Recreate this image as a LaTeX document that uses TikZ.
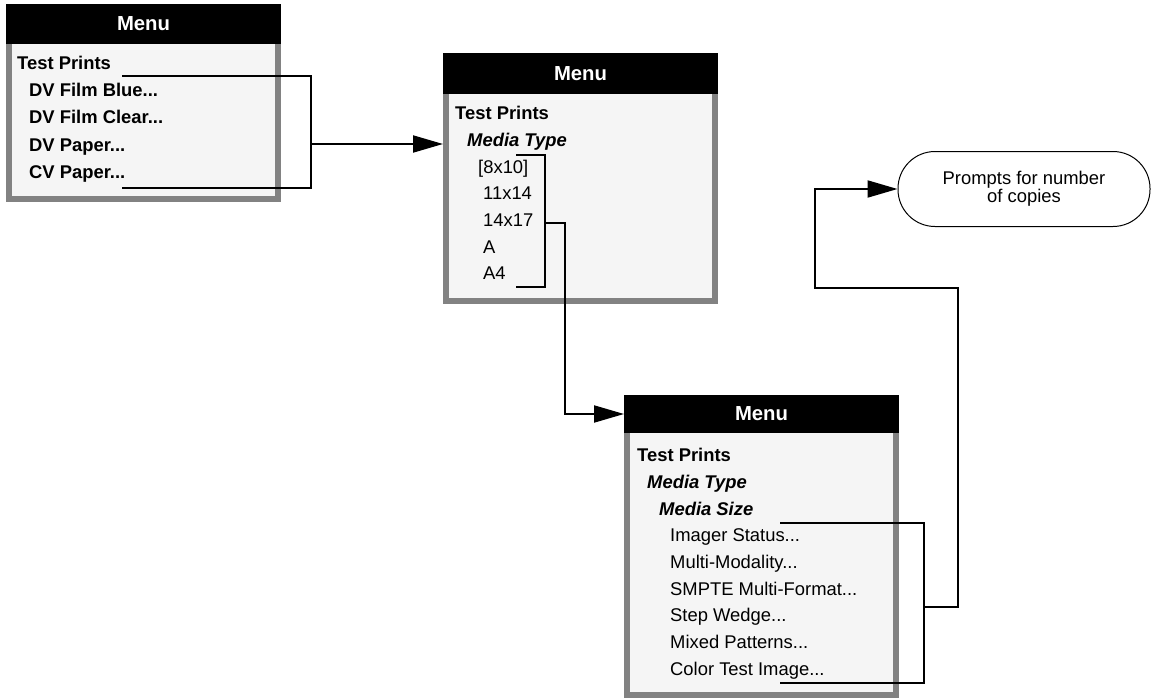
\documentclass[tikz,border=0pt]{standalone}
\usepackage{fontspec}
\setmainfont{Liberation Sans}
\usetikzlibrary{arrows.meta,positioning}
\definecolor{framegray}{HTML}{828282}
\definecolor{menufill}{HTML}{F5F5F5}

\begin{document}
\begin{tikzpicture}[
    x=1pt, y=-1pt,
    menubody/.style={rectangle, draw=framegray, line width=6pt, fill=menufill, inner sep=0pt, minimum width=269pt, anchor=north west},
    menuhead/.style={rectangle, fill=black, text=white, inner sep=0pt, outer sep=0pt, minimum width=275pt, anchor=north west, font=\fontsize{20.3}{24}\selectfont\bfseries},
    entry/.style={anchor=base west, inner sep=0pt, font=\fontsize{18.4}{22}\selectfont},
    boldentry/.style={entry, font=\fontsize{18.4}{22}\selectfont\bfseries},
    subentry/.style={entry, font=\fontsize{18.4}{22}\selectfont\bfseries\itshape},
    bracket/.style={line width=2pt},
    arrow/.style={-{Triangle[length=30pt,width=17pt]}, line width=2pt},
    prompt/.style={rectangle, draw, line width=1pt, rounded corners=37pt, minimum width=252pt, minimum height=75pt, align=center, font=\fontsize{18.4}{18}\selectfont}
]
    \useasboundingbox (0,0) rectangle (1155,698);

    % first menu
    \node[menubody, minimum height=192pt] (menuA) at (6,4) {};
    \node[menuhead, minimum height=40pt] (headA) at (6,4) {Menu};
    \node[boldentry] (a0) at (17,69.6) {Test Prints};
    \foreach \t [count=\i] in {DV Film Blue, DV Film Clear, DV Paper, CV Paper}
        \node[boldentry] (a\i) at (29,69.6+27.2*\i) {\t...};

    % second menu
    \node[menubody, minimum height=245pt] (menuB) at (443,53) {};
    \node[menuhead, minimum height=41pt] (headB) at (443,53) {Menu};
    \node[boldentry] (b0) at (455,119.6) {Test Prints};
    \node[subentry] (b1) at (467,146.3) {Media Type};
    \node[entry] (b2) at (478,173) {[8x10]};
    \foreach \t [count=\i from 3] in {11x14, 14x17, A, A4}
        \node[entry] (b\i) at (483,119.6+26.7*\i) {\t};

    % third menu
    \node[menubody, minimum height=297pt] (menuC) at (624,395) {};
    \node[menuhead, minimum height=38pt] (headC) at (624,395) {Menu};
    \node[boldentry] (c0) at (637,461.6) {Test Prints};
    \node[subentry] (c1) at (647,488.3) {Media Type};
    \node[subentry] (c2) at (659,515) {Media Size};
    \foreach \t [count=\i from 3] in {Imager Status, Multi-Modality, SMPTE Multi-Format, Step Wedge, Mixed Patterns, Color Test Image}
        \node[entry] (c\i) at (670,461.6+26.7*\i) {\t...};

    \node[prompt] (prompt) at (1024,189) {Prompts for number\\of copies};

    % brackets
    \coordinate (selA) at (122,76);
    \coordinate (selAend) at (122,188);
    \coordinate (outA) at (311,144);
    \draw[bracket] (selA) -| (outA) |- (selAend);
    \draw[arrow] (outA) -- (outA -| menuB.west);

    \coordinate (selB) at (516,155);
    \coordinate (selBend) at (516,287);
    \coordinate (outB) at (545,223);
    \draw[bracket] (selB) -| (outB) |- (selBend);
    \draw[arrow] (outB) -- ++(20,0) |- (headC.west);

    \coordinate (selC) at (780,523);
    \coordinate (selCend) at (780,683);
    \coordinate (outC) at (924,607);
    \draw[bracket] (selC) -| (outC) |- (selCend);
    \draw[arrow] (outC) -| (958,288) -- (815,288) |- (prompt.west);
\end{tikzpicture}
\end{document}
